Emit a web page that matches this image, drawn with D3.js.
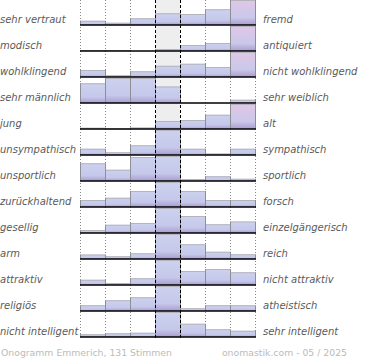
<!DOCTYPE html>
<html><head><meta charset="utf-8">
<script src="https://cdn.jsdelivr.net/npm/d3@7/dist/d3.min.js"></script>
<style>body{margin:0;background:#fff}svg{display:block}</style>
</head><body><svg id="c" width="370" height="360"></svg>
<script>
const leftLabels = ["sehr vertraut","modisch","wohlklingend","sehr männlich","jung","unsympathisch","unsportlich","zurückhaltend","gesellig","arm","attraktiv","religiös","nicht intelligent"];
const rightLabels = ["fremd","antiquiert","nicht wohlklingend","sehr weiblich","alt","sympathisch","sportlich","forsch","einzelgängerisch","reich","nicht attraktiv","atheistisch","sehr intelligent"];
const steps = [0,1,2,3,4,5,6];
const row1 = [17, 9, 27, 47, 44, 63, 100];
const row2 = [4, 4, 0, 8, 24, 32, 100];
const row3 = [28, 7, 23, 45, 53, 40, 100];
const row4 = [79, 100, 100, 66, 0, 0, 13];
const row5 = [5, 2, 6, 32, 36, 57, 100];
const row6 = [25, 11, 39, 100, 25, 6, 25];
const row7 = [71, 45, 96, 100, 8, 19, 9];
const row8 = [28, 37, 64, 100, 64, 28, 28];
const row9 = [12, 33, 40, 100, 68, 35, 46];
const row10 = [18, 11, 23, 100, 59, 29, 19];
const row11 = [21, 8, 27, 100, 56, 64, 51];
const row12 = [23, 43, 55, 100, 11, 23, 23];
const row13 = [11, 15, 17, 100, 53, 31, 25];
const rows = [row1,row2,row3,row4,row5,row6,row7,row8,row9,row10,row11,row12,row13];
const footerLeft = "Onogramm Emmerich, 131 Stimmen";
const footerRight = "onomastik.com - 05 / 2025";

(function(){
const svg = d3.select("#c");
const x = d3.scaleBand().domain(steps).range([80,255]).padding(0);
const rowY = d3.scaleLinear().domain([0,12]).range([25,337]); // baselines
const h = d3.scaleLinear().domain([0,100]).range([0,25]);

const defs = svg.append("defs");
const g1 = defs.append("linearGradient").attr("id","gb").attr("x1",0).attr("y1",0).attr("x2",0).attr("y2",1);
g1.append("stop").attr("offset","0%").attr("stop-color","#cdd2ef");
g1.append("stop").attr("offset","70%").attr("stop-color","#c5c8ea");
g1.append("stop").attr("offset","100%").attr("stop-color","#a99bd0");
const g2 = defs.append("linearGradient").attr("id","gp").attr("x1",0).attr("y1",0).attr("x2",0).attr("y2",1);
g2.append("stop").attr("offset","0%").attr("stop-color","#e2c6e6");
g2.append("stop").attr("offset","70%").attr("stop-color","#c9c8ea");
g2.append("stop").attr("offset","100%").attr("stop-color","#ab9bd0");

const yTop0 = 0, yBot = 338;
svg.append("rect").attr("x",x(3)).attr("y",yTop0).attr("width",x.bandwidth()).attr("height",yBot-yTop0).attr("fill","#eeeeef");
[0,1,2,5,6,7].forEach(i=>{
  const xx = i<7 ? x(i) : x(6)+x.bandwidth();
  svg.append("line").attr("x1",xx+0.5).attr("x2",xx+0.5).attr("y1",yTop0).attr("y2",yBot)
    .attr("stroke","#888").attr("stroke-width",1).attr("stroke-dasharray","1,2");
});

rows.forEach((vals,r)=>{
  const base = rowY(r);
  const g = svg.append("g");
  g.selectAll("rect.bar").data(vals).join("rect").attr("class","bar")
    .attr("x",(d,i)=>x(i)).attr("width",x.bandwidth())
    .attr("y",d=>base-h(d)).attr("height",d=>h(d))
    .attr("fill",(d,i)=> (i===6 && r<5) ? "url(#gp)" : "url(#gb)");
  vals.forEach((d,i)=>{
    if(d<=0) return;
    const yTop = base-h(d);
    g.append("line").attr("x1",x(i)).attr("x2",x(i)+x.bandwidth()).attr("y1",yTop+0.5).attr("y2",yTop+0.5)
      .attr("stroke","#b4b4bc").attr("stroke-width",1);
    [x(i), x(i)+x.bandwidth()].forEach(xx=>{
      g.append("line").attr("x1",xx+0.5).attr("x2",xx+0.5).attr("y1",yTop).attr("y2",base)
        .attr("stroke","#8e8e96").attr("stroke-width",1);
    });
  });
  g.append("line").attr("x1",80).attr("x2",256).attr("y1",base).attr("y2",base)
    .attr("stroke","#000").attr("stroke-width",1.7);
  svg.append("text").attr("x",0).attr("y",base-2).text(leftLabels[r])
    .attr("font-family","DejaVu Sans").attr("font-style","italic").attr("font-size",10).attr("fill","#5a5a5a");
  svg.append("text").attr("x",263).attr("y",base-2).text(rightLabels[r])
    .attr("font-family","DejaVu Sans").attr("font-style","italic").attr("font-size",10).attr("fill","#5a5a5a");
});
[3,4].forEach(i=>{
  svg.append("line").attr("x1",x(i)+0.5).attr("x2",x(i)+0.5).attr("y1",yTop0).attr("y2",yBot)
    .attr("stroke","#000").attr("stroke-width",1).attr("stroke-dasharray","3,2");
});
svg.append("text").attr("x",1).attr("y",356).text(footerLeft)
  .attr("font-family","DejaVu Sans").attr("font-size",9.3).attr("fill","#bbb");
svg.append("text").attr("x",347).attr("y",356).attr("text-anchor","end").text(footerRight)
  .attr("font-family","DejaVu Sans").attr("font-size",9.3).attr("fill","#bbb");
})();
</script></body></html>
